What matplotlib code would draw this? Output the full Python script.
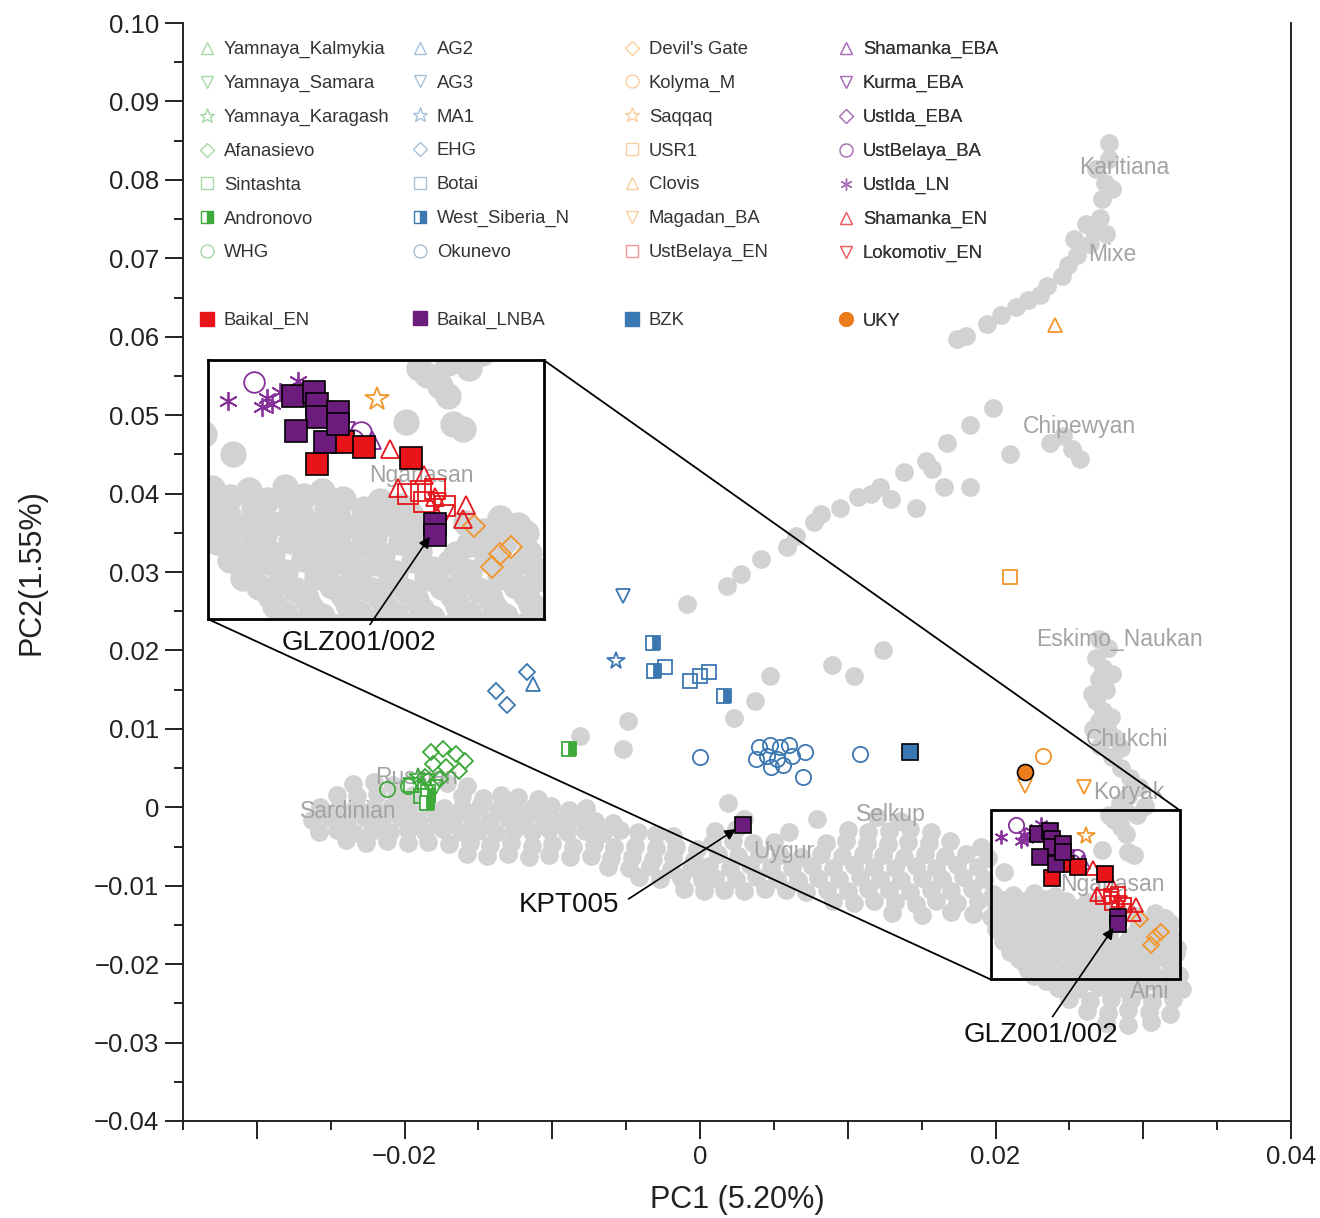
import numpy as np
import matplotlib
matplotlib.use("Agg")
import matplotlib.pyplot as plt
from matplotlib.lines import Line2D
from matplotlib.patches import Rectangle, ConnectionPatch
from matplotlib.ticker import MultipleLocator, FuncFormatter

plt.rcParams['font.family'] = ['Liberation Sans', 'DejaVu Sans']

# modern reference samples (grey cloud)
europe = np.array([
    (-0.0235, 0.0030), (-0.0221, 0.0032), (-0.0208, 0.0028), (-0.0171, 0.0031), (-0.0158, 0.0027),
    (-0.0246, 0.0016), (-0.0232, 0.0014), (-0.0219, 0.0017), (-0.0206, 0.0013), (-0.0194, 0.0016),
    (-0.0161, 0.0015), (-0.0147, 0.0012), (-0.0135, 0.0016), (-0.0123, 0.0013), (-0.0110, 0.0011),
    (-0.0257, 0.0001), (-0.0245, -0.0002), (-0.0233, 0.0002), (-0.0221, -0.0001), (-0.0209, 0.0001),
    (-0.0197, -0.0002), (-0.0185, 0.0002), (-0.0173, -0.0001), (-0.0161, 0.0000), (-0.0149, 0.0002),
    (-0.0137, -0.0002), (-0.0125, 0.0001), (-0.0113, -0.0001), (-0.0101, 0.0002), (-0.0089, -0.0003),
    (-0.0077, -0.0001), (-0.0263, -0.0016), (-0.0251, -0.0013), (-0.0239, -0.0017), (-0.0227, -0.0014),
    (-0.0215, -0.0016), (-0.0203, -0.0013), (-0.0191, -0.0017), (-0.0179, -0.0014), (-0.0167, -0.0016),
    (-0.0155, -0.0013), (-0.0143, -0.0017), (-0.0131, -0.0014), (-0.0119, -0.0016), (-0.0107, -0.0013),
    (-0.0095, -0.0017), (-0.0083, -0.0014), (-0.0071, -0.0018), (-0.0059, -0.0020), (-0.0258, -0.0031),
    (-0.0246, -0.0029), (-0.0234, -0.0033), (-0.0222, -0.0030), (-0.0210, -0.0032), (-0.0198, -0.0029),
    (-0.0186, -0.0031), (-0.0174, -0.0028), (-0.0162, -0.0032), (-0.0150, -0.0030), (-0.0138, -0.0033),
    (-0.0126, -0.0029), (-0.0114, -0.0031), (-0.0102, -0.0028), (-0.0090, -0.0032), (-0.0078, -0.0030),
    (-0.0066, -0.0033), (-0.0054, -0.0029), (-0.0042, -0.0032), (-0.0030, -0.0034), (-0.0018, -0.0036),
    (-0.0240, -0.0042), (-0.0226, -0.0045), (-0.0212, -0.0043), (-0.0198, -0.0046), (-0.0184, -0.0044),
    (-0.0170, -0.0047), (-0.0156, -0.0045), (-0.0142, -0.0048), (-0.0128, -0.0046), (-0.0114, -0.0049),
    (-0.0100, -0.0047), (-0.0086, -0.0050), (-0.0072, -0.0048), (-0.0058, -0.0051), (-0.0044, -0.0049),
    (-0.0030, -0.0052), (-0.0016, -0.0050), (-0.0002, -0.0053), (-0.0158, -0.0060), (-0.0144, -0.0062),
    (-0.0130, -0.0059), (-0.0116, -0.0063), (-0.0102, -0.0061), (-0.0088, -0.0064), (-0.0074, -0.0062),
    (-0.0060, -0.0065), (-0.0046, -0.0063), (-0.0032, -0.0066), (-0.0018, -0.0064), (-0.0004, -0.0067),
    (-0.0062, -0.0076), (-0.0048, -0.0078), (-0.0034, -0.0075), (-0.0020, -0.0079), (-0.0006, -0.0077),
    (-0.0041, -0.0089), (-0.0027, -0.0092), (-0.0013, -0.0090), (0.0001, -0.0093),
    (-0.0011, -0.0104), (0.0003, -0.0107),
])

central = np.array([
    (0.0019, 0.0006), (0.0030, -0.0015), (0.0079, -0.0015), (0.0120, -0.0013), (0.0135, -0.0017),
    (0.0010, -0.0030), (0.0024, -0.0028), (0.0060, -0.0031), (0.0100, -0.0029), (0.0114, -0.0032),
    (0.0128, -0.0030), (0.0142, -0.0028), (0.0156, -0.0031), (0.0008, -0.0045), (0.0022, -0.0043),
    (0.0036, -0.0046), (0.0050, -0.0044), (0.0085, -0.0046), (0.0099, -0.0043), (0.0113, -0.0045),
    (0.0127, -0.0047), (0.0141, -0.0044), (0.0155, -0.0046), (0.0169, -0.0043), (0.0012, -0.0060),
    (0.0026, -0.0062), (0.0040, -0.0059), (0.0054, -0.0061), (0.0068, -0.0063), (0.0082, -0.0060),
    (0.0096, -0.0062), (0.0110, -0.0059), (0.0124, -0.0061), (0.0138, -0.0063), (0.0152, -0.0060),
    (0.0166, -0.0062), (0.0180, -0.0059), (0.0006, -0.0075), (0.0020, -0.0077), (0.0034, -0.0074),
    (0.0048, -0.0076), (0.0062, -0.0078), (0.0076, -0.0075), (0.0090, -0.0077), (0.0104, -0.0074),
    (0.0118, -0.0076), (0.0132, -0.0078), (0.0146, -0.0075), (0.0160, -0.0077), (0.0174, -0.0074),
    (0.0188, -0.0076), (0.0010, -0.0090), (0.0024, -0.0092), (0.0038, -0.0089), (0.0052, -0.0091),
    (0.0066, -0.0093), (0.0080, -0.0090), (0.0094, -0.0092), (0.0108, -0.0089), (0.0122, -0.0091),
    (0.0136, -0.0093), (0.0150, -0.0090), (0.0164, -0.0092), (0.0178, -0.0089), (0.0192, -0.0091),
    (0.0016, -0.0105), (0.0030, -0.0107), (0.0044, -0.0104), (0.0058, -0.0106), (0.0072, -0.0108),
    (0.0086, -0.0105), (0.0100, -0.0107), (0.0114, -0.0104), (0.0128, -0.0106), (0.0142, -0.0108),
    (0.0156, -0.0105), (0.0170, -0.0107), (0.0184, -0.0104), (0.0090, -0.0120), (0.0104, -0.0122),
    (0.0118, -0.0119), (0.0132, -0.0121), (0.0146, -0.0123), (0.0160, -0.0120), (0.0174, -0.0122),
    (0.0188, -0.0119), (0.0130, -0.0135), (0.0150, -0.0137), (0.0170, -0.0134), (0.0185, -0.0136),
    (0.0190, -0.0050), (0.0195, -0.0065),
])

east_asia = np.array([
    (0.0206, -0.0082), (0.0277, -0.0010), (0.0285, -0.0025), (0.0288, -0.0034), (0.0272, -0.0055),
    (0.0294, -0.0061), (0.0290, -0.0057), (0.0280, -0.0016), (0.0198, -0.0110), (0.0212, -0.0112),
    (0.0226, -0.0109), (0.0240, -0.0113), (0.0200, -0.0125), (0.0214, -0.0127), (0.0228, -0.0124),
    (0.0242, -0.0126), (0.0256, -0.0128), (0.0270, -0.0125), (0.0197, -0.0140), (0.0211, -0.0142),
    (0.0225, -0.0139), (0.0239, -0.0141), (0.0253, -0.0143), (0.0267, -0.0140), (0.0281, -0.0142),
    (0.0295, -0.0139), (0.0308, -0.0135), (0.0318, -0.0148), (0.0200, -0.0155), (0.0214, -0.0157),
    (0.0228, -0.0154), (0.0242, -0.0156), (0.0256, -0.0158), (0.0270, -0.0155), (0.0296, -0.0157),
    (0.0310, -0.0154), (0.0205, -0.0170), (0.0219, -0.0172), (0.0233, -0.0169), (0.0247, -0.0171),
    (0.0261, -0.0173), (0.0275, -0.0170), (0.0289, -0.0172), (0.0303, -0.0169), (0.0317, -0.0171),
    (0.0210, -0.0185), (0.0224, -0.0187), (0.0238, -0.0184), (0.0252, -0.0186), (0.0266, -0.0188),
    (0.0280, -0.0185), (0.0294, -0.0187), (0.0308, -0.0184), (0.0322, -0.0186), (0.0220, -0.0200),
    (0.0234, -0.0202), (0.0248, -0.0199), (0.0262, -0.0201), (0.0276, -0.0203), (0.0290, -0.0200),
    (0.0304, -0.0202), (0.0318, -0.0199), (0.0226, -0.0215), (0.0240, -0.0217), (0.0254, -0.0214),
    (0.0268, -0.0216), (0.0282, -0.0218), (0.0296, -0.0215), (0.0310, -0.0217), (0.0324, -0.0214),
    (0.0242, -0.0230), (0.0256, -0.0232), (0.0270, -0.0229), (0.0284, -0.0231), (0.0298, -0.0233),
    (0.0312, -0.0230), (0.0326, -0.0232), (0.0250, -0.0245), (0.0264, -0.0247), (0.0278, -0.0244),
    (0.0292, -0.0246), (0.0306, -0.0248), (0.0320, -0.0245), (0.0262, -0.0260), (0.0276, -0.0262),
    (0.0290, -0.0259), (0.0304, -0.0261), (0.0318, -0.0263), (0.0275, -0.0275), (0.0290, -0.0277),
    (0.0305, -0.0274),
    (0.0205, -0.0118), (0.0219, -0.0120), (0.0233, -0.0117), (0.0248, -0.0119), (0.0262, -0.0121),
    (0.0204, -0.0133), (0.0218, -0.0135), (0.0232, -0.0132), (0.0246, -0.0134), (0.0260, -0.0136),
    (0.0274, -0.0133), (0.0204, -0.0148), (0.0218, -0.0150), (0.0232, -0.0147), (0.0246, -0.0149),
    (0.0260, -0.0151), (0.0274, -0.0148), (0.0302, -0.0146), (0.0315, -0.0141), (0.0207, -0.0163),
    (0.0221, -0.0165), (0.0235, -0.0162), (0.0249, -0.0164), (0.0263, -0.0166), (0.0277, -0.0163),
    (0.0291, -0.0165), (0.0305, -0.0162), (0.0319, -0.0164), (0.0212, -0.0178), (0.0226, -0.0180),
    (0.0240, -0.0177), (0.0254, -0.0179), (0.0268, -0.0181), (0.0282, -0.0178), (0.0296, -0.0180),
    (0.0310, -0.0177), (0.0323, -0.0179), (0.0216, -0.0193), (0.0230, -0.0195), (0.0244, -0.0192),
    (0.0258, -0.0194), (0.0272, -0.0196), (0.0286, -0.0193), (0.0300, -0.0195), (0.0314, -0.0192),
    (0.0222, -0.0208), (0.0236, -0.0210), (0.0250, -0.0207), (0.0264, -0.0209), (0.0278, -0.0211),
    (0.0292, -0.0208), (0.0306, -0.0210), (0.0320, -0.0207), (0.0234, -0.0222), (0.0248, -0.0224),
    (0.0262, -0.0221), (0.0276, -0.0223), (0.0290, -0.0225), (0.0304, -0.0222), (0.0318, -0.0224),
])

beringia = np.array([
    (0.0270, 0.0215), (0.0276, 0.0203), (0.0268, 0.0190), (0.0273, 0.0177), (0.0270, 0.0163),
    (0.0275, 0.0150), (0.0268, 0.0136), (0.0273, 0.0123), (0.0270, 0.0110), (0.0276, 0.0097),
    (0.0281, 0.0088), (0.0271, 0.0078), (0.0279, 0.0064), (0.0285, 0.0050), (0.0291, 0.0037),
    (0.0297, 0.0026), (0.0290, 0.0014), (0.0284, 0.0006), (0.0301, 0.0002), (0.0296, -0.0010),
    (0.0288, -0.0006), (0.0279, 0.0170), (0.0265, 0.0145), (0.0278, 0.0115), (0.0266, 0.0100),
    (0.0285, 0.0075),
])

americas = np.array([
    (0.0277, 0.0847), (0.0277, 0.0827), (0.0274, 0.0796), (0.0272, 0.0776), (0.0271, 0.0751),
    (0.0266, 0.0737), (0.0264, 0.0718), (0.0255, 0.0704), (0.0249, 0.0691), (0.0245, 0.0677),
    (0.0235, 0.0665), (0.0230, 0.0653), (0.0222, 0.0647), (0.0214, 0.0638), (0.0204, 0.0628),
    (0.0194, 0.0616), (0.0180, 0.0601), (0.0174, 0.0597), (0.0268, 0.0814), (0.0279, 0.0788),
    (0.0261, 0.0744), (0.0275, 0.0731), (0.0253, 0.0724), (0.0198, 0.0509), (0.0183, 0.0487),
    (0.0167, 0.0464), (0.0153, 0.0441), (0.0138, 0.0427), (0.0122, 0.0409), (0.0107, 0.0395),
    (0.0095, 0.0381), (0.0077, 0.0364), (0.0065, 0.0346), (0.0059, 0.0332), (0.0146, 0.0381),
    (0.0165, 0.0409), (0.0183, 0.0409), (0.0210, 0.0450), (0.0237, 0.0464), (0.0246, 0.0473),
    (0.0252, 0.0457), (0.0257, 0.0444), (0.0157, 0.0431), (0.0129, 0.0393), (0.0116, 0.0399),
    (0.0082, 0.0374), (0.0041, 0.0316), (0.0028, 0.0297),
])

scattered = np.array([
    (0.0018, 0.0282), (-0.0009, 0.0259), (0.0124, 0.0200), (0.0089, 0.0181), (0.0104, 0.0168),
    (0.0047, 0.0168), (0.0037, 0.0135), (0.0023, 0.0114), (-0.0049, 0.0110), (-0.0052, 0.0074),
    (-0.0081, 0.0091),
])

# ancient groups
yamnaya_kalmykia = [(-0.0189, 0.0029)]
yamnaya_samara = [(-0.0184, 0.0033), (-0.0179, 0.0026)]
yamnaya_karagash = [(-0.0191, 0.0038)]
afanasievo = [(-0.0182, 0.0071), (-0.0174, 0.0074), (-0.0165, 0.0068), (-0.0159, 0.0059), (-0.0181, 0.0055),
              (-0.0172, 0.0051), (-0.0163, 0.0046), (-0.0186, 0.0038), (-0.0176, 0.0036)]
sintashta = [(-0.0196, 0.0029), (-0.0184, 0.0020), (-0.0189, 0.0015)]
andronovo = [(-0.0184, 0.0014), (-0.0185, 0.0006), (-0.0089, 0.0074)]
whg = [(-0.0212, 0.0023), (-0.0198, 0.0027)]
ag2 = [(-0.0113, 0.0157)]
ag3 = [(-0.0052, 0.0269)]
ma1 = [(-0.0057, 0.0186)]
ehg = [(-0.0138, 0.0148), (-0.0131, 0.0131), (-0.0117, 0.0173)]
botai = [(-0.0024, 0.0179), (-0.0007, 0.0161), (0.0000, 0.0167), (0.0006, 0.0172)]
west_siberia_n = [(-0.0032, 0.0210), (-0.0031, 0.0174), (0.0016, 0.0142)]
okunevo = [(0.0000, 0.0064), (0.0040, 0.0077), (0.0047, 0.0080), (0.0054, 0.0077), (0.0060, 0.0080),
           (0.0045, 0.0065), (0.0052, 0.0061), (0.0062, 0.0066), (0.0071, 0.0071), (0.0048, 0.0051),
           (0.0056, 0.0054), (0.0038, 0.0061), (0.0070, 0.0038), (0.0108, 0.0068)]
devils_gate = [(0.0298, -0.0142), (0.0312, -0.0159), (0.0308, -0.0165), (0.0305, -0.0176)]
kolyma_m = [(0.0232, 0.0066)]
saqqaq = [(0.0261, -0.0036)]
usr1 = [(0.0210, 0.0293)]
clovis = [(0.0240, 0.0615)]
magadan_ba = [(0.0220, 0.0027), (0.0260, 0.0026)]
ustbelaya_en = [(0.0273, -0.0115), (0.0278, -0.0113), (0.0283, -0.0111), (0.0279, -0.0122), (0.0287, -0.0125)]
shamanka_eba = [(0.0259, -0.0070)]
kurma_eba = [(0.0249, -0.0063)]
ustida_eba = [(0.0243, -0.0070)]
ustbelaya_ba = [(0.0214, -0.0022), (0.0255, -0.0064), (0.0252, -0.0070)]
ustida_ln = [(0.0204, -0.0038), (0.0219, -0.0035), (0.0221, -0.0040), (0.0224, -0.0030), (0.0231, -0.0021),
             (0.0217, -0.0043)]
shamanka_en = [(0.0266, -0.0078), (0.0279, -0.0099), (0.0269, -0.0110), (0.0283, -0.0118), (0.0295, -0.0124),
               (0.0294, -0.0136)]
lokomotiv_en = [(0.0284, -0.0122), (0.0287, -0.0132)]
baikal_en = [(0.0248, -0.0072), (0.0256, -0.0076), (0.0238, -0.0090), (0.0274, -0.0085)]
baikal_lnba = [(0.0229, -0.0034), (0.0237, -0.0030), (0.0238, -0.0040), (0.0238, -0.0051), (0.0246, -0.0047),
               (0.0230, -0.0063), (0.0241, -0.0072), (0.0246, -0.0057), (0.0283, -0.0140), (0.0283, -0.0149),
               (0.0029, -0.0022)]
bzk = [(0.0142, 0.0071)]
uky = [(0.0220, 0.0045)]

pop_names = ['Karitiana', 'Mixe', 'Chipewyan', 'Eskimo_Naukan', 'Chukchi', 'Koryak', 'Nganasan', 'Ami',
             'Selkup', 'Uygur', 'Sardinian', 'Russian']
pop_x = [0.0287, 0.0279, 0.0257, 0.0284, 0.0289, 0.0290, 0.0279, 0.0304, 0.0129, 0.0057, -0.0238, -0.0192]
pop_y = [0.0816, 0.0705, 0.0485, 0.0214, 0.0087, 0.0019, -0.0099, -0.0235, -0.0009, -0.0056, -0.0005, 0.0038]

GREEN = '#3daa3a'
BLUE = '#3b77b0'
ORANGE = '#f2962c'
RED = '#e5161c'
PURPLE = '#86309a'
ASTER = (6, 2, 0)

# (label, points, marker, colour, fill)  fill: 'none', 'half', 'full'
col1 = [('Yamnaya_Kalmykia', yamnaya_kalmykia, '^', GREEN, 'none'),
        ('Yamnaya_Samara', yamnaya_samara, 'v', GREEN, 'none'),
        ('Yamnaya_Karagash', yamnaya_karagash, '*', GREEN, 'none'),
        ('Afanasievo', afanasievo, 'D', GREEN, 'none'),
        ('Sintashta', sintashta, 's', GREEN, 'none'),
        ('Andronovo', andronovo, 's', GREEN, 'half'),
        ('WHG', whg, 'o', GREEN, 'none')]
col2 = [('AG2', ag2, '^', BLUE, 'none'),
        ('AG3', ag3, 'v', BLUE, 'none'),
        ('MA1', ma1, '*', BLUE, 'none'),
        ('EHG', ehg, 'D', BLUE, 'none'),
        ('Botai', botai, 's', BLUE, 'none'),
        ('West_Siberia_N', west_siberia_n, 's', BLUE, 'half'),
        ('Okunevo', okunevo, 'o', BLUE, 'none')]
col3 = [("Devil's Gate", devils_gate, 'D', ORANGE, 'none'),
        ('Kolyma_M', kolyma_m, 'o', ORANGE, 'none'),
        ('Saqqaq', saqqaq, '*', ORANGE, 'none'),
        ('USR1', usr1, 's', ORANGE, 'none'),
        ('Clovis', clovis, '^', ORANGE, 'none'),
        ('Magadan_BA', magadan_ba, 'v', ORANGE, 'none'),
        ('UstBelaya_EN', ustbelaya_en, 's', RED, 'none')]
col4 = [('Shamanka_EBA', shamanka_eba, '^', PURPLE, 'none'),
        ('Kurma_EBA', kurma_eba, 'v', PURPLE, 'none'),
        ('UstIda_EBA', ustida_eba, 'D', PURPLE, 'none'),
        ('UstBelaya_BA', ustbelaya_ba, 'o', PURPLE, 'none'),
        ('UstIda_LN', ustida_ln, ASTER, PURPLE, 'none'),
        ('Shamanka_EN', shamanka_en, '^', RED, 'none'),
        ('Lokomotiv_EN', lokomotiv_en, 'v', RED, 'none')]
highlight = [('Baikal_EN', baikal_en, 's', '#e8141a', 'full'),
             ('Baikal_LNBA', baikal_lnba, 's', '#6c1c7d', 'full'),
             ('BZK', bzk, 's', '#3a78b4', 'full'),
             ('UKY', uky, 'o', '#ea7c1c', 'full')]

SIZES = {'o': 11, 's': 10.5, '^': 10, 'v': 10, 'D': 8, '*': 13, ASTER: 10}


def style(marker, colour, fill, scale=1.0, legend=False):
    ms = SIZES[marker] * scale
    kw = dict(ls='none', marker=marker, mec=colour, mew=1.3)
    if fill == 'none':
        kw.update(mfc='none', ms=ms)
    elif fill == 'half':
        kw.update(mfc=colour, mfcalt='white', fillstyle='right', ms=ms)
    else:
        kw.update(mfc=colour, mec='black' if not legend else colour, mew=1.2,
                  ms=(12 if marker == 's' else 11.5) * scale)
    if legend:
        kw['ms'] = kw['ms'] * 0.85
        kw['mew'] = 1.0
        if fill == 'none':
            kw['alpha'] = 0.45
    return kw


def draw(a, scale, gray_ms):
    for reg in (europe, central, east_asia, beringia, americas, scattered):
        a.plot(reg[:, 0], reg[:, 1], ls='none', marker='o', ms=gray_ms,
               mfc='#d2d2d2', mec='none', zorder=1)
    for col in (col1, col2, col3, col4):
        for name, pts, m, c, f in col:
            p = np.array(pts)
            a.plot(p[:, 0], p[:, 1], zorder=3, **style(m, c, f, scale))
    for name, pts, m, c, f in highlight:
        p = np.array(pts)
        a.plot(p[:, 0], p[:, 1], zorder=4, **style(m, c, f, scale))


fig = plt.figure(figsize=(13.2, 12.18), dpi=100)
W, H = 1320, 1218
ax = fig.add_axes([183 / W, 1 - 1121 / H, (1291 - 183) / W, (1121 - 23) / H])
draw(ax, 1.0, 13.5)

for n, x, y in zip(pop_names, pop_x, pop_y):
    ax.text(x, y, n, color='#a3a3a3', fontsize=16.5, ha='center', va='center', zorder=2)

ax.set_xlim(-0.035, 0.04)
ax.set_ylim(-0.04, 0.10)


def fmt(v, pos=None):
    if abs(v) < 1e-9:
        return '0'
    return ('%.2f' % v).replace('-', '\u2212')


def fmt_x(v, pos=None):
    if int(round(v / 0.01)) % 2 != 0:
        return ''
    return fmt(v)


ax.xaxis.set_major_locator(MultipleLocator(0.01))
ax.xaxis.set_minor_locator(MultipleLocator(0.005))
ax.yaxis.set_major_locator(MultipleLocator(0.01))
ax.yaxis.set_minor_locator(MultipleLocator(0.005))
ax.xaxis.set_major_formatter(FuncFormatter(fmt_x))
ax.yaxis.set_major_formatter(FuncFormatter(fmt))
ax.tick_params(which='major', direction='out', length=13, width=1.4, labelsize=18.5,
               colors='#222222', pad=4)
ax.tick_params(which='minor', direction='out', length=6.5, width=1.4, colors='#222222')
for s in ('left', 'bottom', 'right'):
    ax.spines[s].set_linewidth(1.4)
    ax.spines[s].set_color('#222222')
ax.spines['top'].set_visible(False)
ax.set_xlabel('PC1 (5.20%)', fontsize=22, color='#222222', labelpad=12)
ax.set_ylabel('PC2(1.55%)', fontsize=22, color='#222222', labelpad=34)

# zoom box and inset
bx0, bx1, by0, by1 = 0.01966, 0.03247, -0.02194, -0.00038
ax.add_patch(Rectangle((bx0, by0), bx1 - bx0, by1 - by0, fill=False, ec='black', lw=2, zorder=5))
axins = ax.inset_axes([-0.03329, 0.02398, 0.02271, 0.03304], transform=ax.transData)
draw(axins, 1.35, 19)
axins.text(0.0278, -0.0100, 'Nganasan', color='#a3a3a3', fontsize=16.5, ha='center', va='center',
           zorder=2, clip_on=True)
axins.set_xlim(bx0, bx1)
axins.set_ylim(by0, by1)
axins.set_xticks([])
axins.set_yticks([])
for s in axins.spines.values():
    s.set_linewidth(2)
    s.set_color('black')

for xa, xb in (((1, 1), (bx1, by1)), ((0, 0), (bx0, by0))):
    con = ConnectionPatch(xyA=xa, coordsA=axins.transAxes, xyB=xb, coordsB=ax.transData,
                          color='black', lw=1.3, zorder=6)
    ax.add_artist(con)

arrow = dict(arrowstyle='-|>', color='black', lw=1.2, mutation_scale=16, shrinkA=2, shrinkB=6)
ax.annotate('GLZ001/002', xy=(0.0283, -0.0145), xytext=(-0.0231, 0.0210), fontsize=20,
            ha='center', va='center', color='#111111', zorder=8,
            arrowprops=dict(arrow, relpos=(0.55, 1.0)), xycoords=axins.transData, textcoords='data')
ax.annotate('KPT005', xy=(0.0029, -0.0022), xytext=(-0.0089, -0.0125), fontsize=20,
            ha='center', va='center', color='#111111', zorder=8,
            arrowprops=dict(arrow, relpos=(1.0, 0.5), shrinkA=6))
ax.annotate('GLZ001/002', xy=(0.0283, -0.0145), xytext=(0.0231, -0.0290), fontsize=20,
            ha='center', va='center', color='#111111', zorder=8,
            arrowprops=dict(arrow, relpos=(0.55, 1.0)))

# legend: four columns plus the highlighted samples row
col_x = [198, 411, 623, 837]
for cx, col, hl in zip(col_x, (col1, col2, col3, col4), highlight):
    handles, labels = [], []
    for name, pts, m, c, f in col:
        handles.append(Line2D([], [], **style(m, c, f, legend=True)))
        labels.append(name)
    handles.append(Line2D([], [], ls='none'))
    labels.append('')
    handles.append(Line2D([], [], **style(hl[2], hl[3], hl[4], legend=True)))
    labels.append(hl[0])
    leg = ax.legend(handles, labels, loc='upper left', bbox_to_anchor=(cx / W, 1 - 41 / H),
                    bbox_transform=fig.transFigure, frameon=False, fontsize=13.3,
                    handlelength=1.0, handletextpad=0.4, borderpad=0, borderaxespad=0,
                    labelspacing=0.91, labelcolor='#333333')
    ax.add_artist(leg)

fig.savefig('out.png', dpi=100)
